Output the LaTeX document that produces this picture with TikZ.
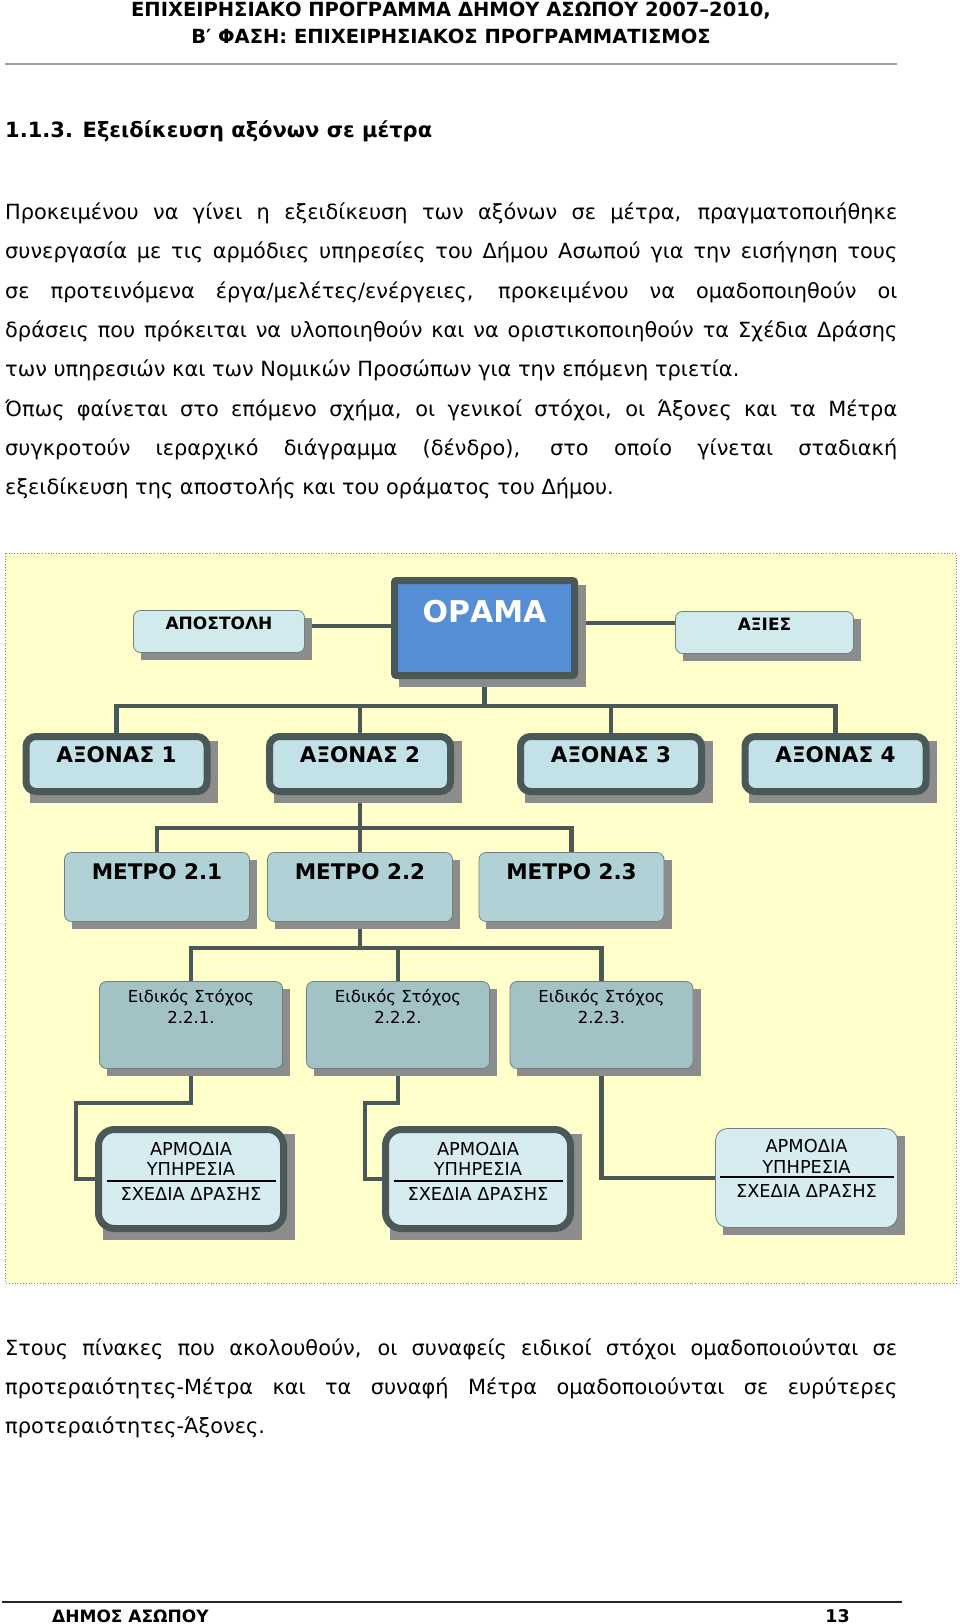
\documentclass[tikz,border=0pt]{standalone}
\usepackage{fontspec}
\setmainfont{DejaVu Sans}
\usetikzlibrary{backgrounds}

\definecolor{linkgray}{RGB}{74,88,88}
\definecolor{edgegray}{RGB}{112,128,128}
\definecolor{shadowgray}{RGB}{140,140,140}
\definecolor{paneyellow}{RGB}{255,255,204}
\definecolor{visionblue}{RGB}{86,142,214}
\definecolor{lightfill}{RGB}{208,234,238}
\definecolor{axisfill}{RGB}{194,226,232}
\definecolor{measurefill}{RGB}{176,210,214}
\definecolor{targetfill}{RGB}{162,194,198}
\definecolor{servicefill}{RGB}{214,236,240}
\definecolor{rulegray}{RGB}{160,160,160}

\newcommand{\bodyfont}{\fontsize{20.9}{39.35}\selectfont}
\newcommand{\headfont}{\fontsize{19.5}{28}\selectfont\bfseries}
\newcommand{\capfont}{\fontsize{17}{20}\selectfont\bfseries}
\newcommand{\axisfont}{\fontsize{21.5}{25}\selectfont\bfseries}
\newcommand{\smallfont}{\fontsize{16.5}{20.5}\selectfont}
\newcommand{\servicefont}{\fontsize{17.8}{20.5}\selectfont}

\tikzset{
  conn/.style={draw=linkgray, line width=4.5pt},
  box/.style={rectangle, rounded corners=7pt, draw=edgegray, line width=0.8pt, inner sep=0pt},
  heavybox/.style={box, draw=linkgray, line width=7pt, rounded corners=10pt},
  boxtext/.style={anchor=north, inner sep=0pt, align=center},
}

\begin{document}
\begin{tikzpicture}[x=1pt, y=-1pt]
\useasboundingbox (0,0) rectangle (960,1624);

% page header
\node[font=\headfont, anchor=base] (head1) at (451,17) {ΕΠΙΧΕΙΡΗΣΙΑΚΟ ΠΡΟΓΡΑΜΜΑ ΔΗΜΟΥ ΑΣΩΠΟΥ 2007–2010,};
\node[font=\headfont, anchor=base] (head2) at (451,44) {Β′ ΦΑΣΗ: ΕΠΙΧΕΙΡΗΣΙΑΚΟΣ ΠΡΟΓΡΑΜΜΑΤΙΣΜΟΣ};
\draw[rulegray, line width=2.5pt] (5,64) -- (897,64);

\node[font=\fontsize{21}{25}\selectfont\bfseries, anchor=base west, inner sep=0pt] (sec) at (5,138) {1.1.3. Εξειδίκευση αξόνων σε μέτρα};

\node[font=\bodyfont, anchor=base west, inner sep=0pt, text width=892pt, align=justify] (para1) at (5,219.5)
  {\hyphenpenalty=10000\tolerance=10000
   Προκειμένου να γίνει η εξειδίκευση των αξόνων σε μέτρα, πραγματοποιήθηκε\linebreak
   συνεργασία με τις αρμόδιες υπηρεσίες του Δήμου Ασωπού για την εισήγηση τους\linebreak
   σε προτεινόμενα έργα/μελέτες/ενέργειες, προκειμένου να ομαδοποιηθούν οι\linebreak
   δράσεις που πρόκειται να υλοποιηθούν και να οριστικοποιηθούν τα Σχέδια Δράσης\linebreak
   των υπηρεσιών και των Νομικών Προσώπων για την επόμενη τριετία.\par
   Όπως φαίνεται στο επόμενο σχήμα, οι γενικοί στόχοι, οι Άξονες και τα Μέτρα\linebreak
   συγκροτούν ιεραρχικό διάγραμμα (δένδρο), στο οποίο γίνεται σταδιακή\linebreak
   εξειδίκευση της αποστολής και του οράματος του Δήμου.};

% the tree
\node[box, fill=lightfill, minimum width=171pt, minimum height=42pt,
      label={[boxtext, yshift=-7pt, font=\capfont]north:ΑΠΟΣΤΟΛΗ}] (apo) at (219,631.5) {};
\node[heavybox, rounded corners=2pt, fill=visionblue, minimum width=180pt, minimum height=95pt,
      label={[boxtext, yshift=-23pt, font=\fontsize{30}{36}\selectfont\bfseries, text=white]north:ΟΡΑΜΑ}] (orama) at (484.5,628) {};
\node[box, fill=lightfill, minimum width=178pt, minimum height=42pt,
      label={[boxtext, yshift=-7pt, font=\capfont]north:ΑΞΙΕΣ}] (axies) at (764.5,632.5) {};

\node[heavybox, fill=axisfill, minimum width=181pt, minimum height=55pt,
      label={[boxtext, yshift=-13pt, font=\axisfont]north:ΑΞΟΝΑΣ 1}] (ax1) at (116.5,764) {};
\node[heavybox, fill=axisfill, minimum width=181pt, minimum height=55pt,
      label={[boxtext, yshift=-13pt, font=\axisfont]north:ΑΞΟΝΑΣ 2}] (ax2) at (360,764) {};
\node[heavybox, fill=axisfill, minimum width=181pt, minimum height=55pt,
      label={[boxtext, yshift=-13pt, font=\axisfont]north:ΑΞΟΝΑΣ 3}] (ax3) at (611,764) {};
\node[heavybox, fill=axisfill, minimum width=181pt, minimum height=55pt,
      label={[boxtext, yshift=-13pt, font=\axisfont]north:ΑΞΟΝΑΣ 4}] (ax4) at (835.5,764) {};

\node[box, fill=measurefill, minimum width=185pt, minimum height=69pt,
      label={[boxtext, yshift=-11pt, font=\axisfont]north:ΜΕΤΡΟ 2.1}] (me1) at (157,887) {};
\node[box, fill=measurefill, minimum width=185pt, minimum height=69pt,
      label={[boxtext, yshift=-11pt, font=\axisfont]north:ΜΕΤΡΟ 2.2}] (me2) at (360,887) {};
\node[box, fill=measurefill, minimum width=185pt, minimum height=69pt,
      label={[boxtext, yshift=-11pt, font=\axisfont]north:ΜΕΤΡΟ 2.3}] (me3) at (571.5,887) {};

\node[box, fill=targetfill, minimum width=183pt, minimum height=87pt,
      label={[boxtext, yshift=-8pt, font=\smallfont]north:Ειδικός Στόχος\\2.2.1.}] (es1) at (191,1025) {};
\node[box, fill=targetfill, minimum width=183pt, minimum height=87pt,
      label={[boxtext, yshift=-8pt, font=\smallfont]north:Ειδικός Στόχος\\2.2.2.}] (es2) at (398,1025) {};
\node[box, fill=targetfill, minimum width=183pt, minimum height=87pt,
      label={[boxtext, yshift=-8pt, font=\smallfont]north:Ειδικός Στόχος\\2.2.3.}] (es3) at (601.5,1025) {};

\node[heavybox, rounded corners=16pt, fill=servicefill, minimum width=185pt, minimum height=99pt,
      label={[boxtext, yshift=-16pt, font=\servicefont]north:ΑΡΜΟΔΙΑ\\ΥΠΗΡΕΣΙΑ\\[4pt]ΣΧΕΔΙΑ ΔΡΑΣΗΣ}] (arm1) at (191,1179) {};
\node[heavybox, rounded corners=16pt, fill=servicefill, minimum width=185pt, minimum height=99pt,
      label={[boxtext, yshift=-16pt, font=\servicefont]north:ΑΡΜΟΔΙΑ\\ΥΠΗΡΕΣΙΑ\\[4pt]ΣΧΕΔΙΑ ΔΡΑΣΗΣ}] (arm2) at (478,1179) {};
\node[box, rounded corners=12pt, fill=servicefill, minimum width=182pt, minimum height=99pt,
      label={[boxtext, yshift=-11pt, font=\servicefont]north:ΑΡΜΟΔΙΑ\\ΥΠΗΡΕΣΙΑ\\[4pt]ΣΧΕΔΙΑ ΔΡΑΣΗΣ}] (arm3) at (806.5,1178) {};

% rules under ΥΠΗΡΕΣΙΑ
\draw[line width=1.7pt] ([xshift=12pt,yshift=-55pt]arm1.north west) -- ([xshift=-11pt,yshift=-55pt]arm1.north east);
\draw[line width=1.7pt] ([xshift=12pt,yshift=-55pt]arm2.north west) -- ([xshift=-11pt,yshift=-55pt]arm2.north east);
\draw[line width=1.7pt] ([xshift=5pt,yshift=-49pt]arm3.north west) -- ([xshift=-4pt,yshift=-49pt]arm3.north east);

\coordinate (bar1) at (0,706);
\coordinate (bar2) at (0,828);
\coordinate (bar3) at (0,948);
\coordinate (k1) at (76,1103);
\coordinate (k2) at (365,1103);

\begin{scope}[on background layer]
  \fill[paneyellow] (5.5,553) rectangle (956,1283);
  \draw[gray, dotted, line width=0.8pt] (5.5,553) rectangle (956,1283);
  % connectors
  \draw[conn] ([yshift=5.5pt]apo.east) -- ([yshift=5.5pt]apo.east -| orama.west);
  \draw[conn] ([yshift=9.5pt]axies.west) -- ([yshift=9.5pt]axies.west -| orama.east);
  \foreach \n in {ax1,ax2,ax3,ax4}
    \draw[conn] (orama.south) -- (orama.south |- bar1) -| (\n.north);
  \foreach \n in {me1,me2,me3}
    \draw[conn] (ax2.south) -- (ax2.south |- bar2) -| (\n.north);
  \foreach \n in {es1,es2,es3}
    \draw[conn] (me2.south) -- (me2.south |- bar3) -| (\n.north);
  \draw[conn] (es1.south) |- (k1) |- (arm1.west);
  \draw[conn] (es2.south) |- (k2) |- (arm2.west);
  \draw[conn] (es3.south) |- (arm3.west);
  % shadows
  \foreach \n in {apo,orama,axies,ax1,ax2,ax3,ax4,me1,me2,me3,es1,es2,es3,arm1,arm2,arm3}
    \fill[shadowgray] ([shift={(7.5,7.5)}]\n.south west) rectangle ([shift={(7.5,7.5)}]\n.north east);
\end{scope}

\node[font=\bodyfont, anchor=base west, inner sep=0pt, text width=892pt, align=justify] (para2) at (5,1355)
  {\hyphenpenalty=10000\tolerance=10000
   Στους πίνακες που ακολουθούν, οι συναφείς ειδικοί στόχοι ομαδοποιούνται σε\linebreak
   προτεραιότητες-Μέτρα και τα συναφή Μέτρα ομαδοποιούνται σε ευρύτερες\linebreak
   προτεραιότητες-Άξονες.};

% page footer
\draw[black!85, line width=2pt] (2,1602) -- (902,1602);
\node[font=\fontsize{17}{22}\selectfont\bfseries, anchor=base west, inner sep=0pt] (foot) at (52,1622) {ΔΗΜΟΣ ΑΣΩΠΟΥ};
\node[font=\fontsize{17.5}{22}\selectfont\bfseries, anchor=base east, inner sep=0pt] (pagenum) at (850,1622) {13};
\end{tikzpicture}
\end{document}
